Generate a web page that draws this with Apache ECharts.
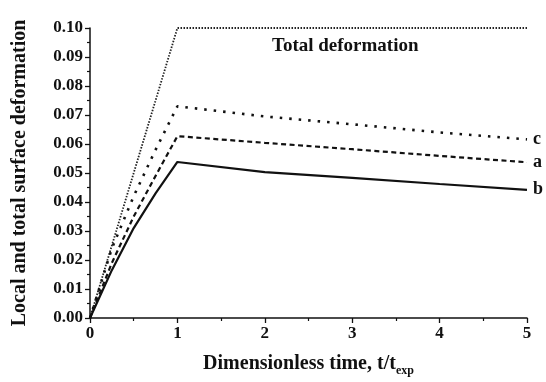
<!DOCTYPE html>
<html><head><meta charset="utf-8">
<script src="https://cdn.jsdelivr.net/npm/echarts@6/dist/echarts.min.js"></script>
<style>html,body{margin:0;padding:0;background:#fff}#c{width:546px;height:382px}</style>
</head><body><div id="c"></div>
<script>
const timeLocal = [0, 0.25, 0.5, 0.75, 1, 2, 3, 4, 5];
const curveB = [0, 0.0165, 0.031, 0.043, 0.0538, 0.0503, 0.0483, 0.0462, 0.0442];
const curveA = [0, 0.019, 0.035, 0.049, 0.0627, 0.0604, 0.0582, 0.0559, 0.0537];
const curveC = [0, 0.024, 0.042, 0.058, 0.073, 0.0695, 0.0668, 0.064, 0.0616];
const timeTotal = [0, 1, 5];
const totalDef = [0, 0.10, 0.10];
const yTicks = ['0.00','0.01','0.02','0.03','0.04','0.05','0.06','0.07','0.08','0.09','0.10'];

const F = '"Liberation Serif", "DejaVu Serif", serif';
const pair = (ts, vs) => ts.map((t, i) => [t, vs[i]]);
const chart = echarts.init(document.getElementById('c'));
const lbl = (txt) => ({show: true, formatter: txt, color: '#111', fontFamily: F, fontWeight: 'bold', fontSize: 18, distance: 6});
chart.setOption({
  animation: false,
  backgroundColor: '#fff',
  grid: {left: 90, right: 19, top: 28, bottom: 62},
  xAxis: {
    type: 'value', min: 0, max: 5, interval: 1,
    name: '{m|Dimensionless time, t/t}{s|exp}', nameLocation: 'middle', nameGap: 33,
    nameTextStyle: {rich: {
      m: {fontFamily: F, fontWeight: 'bold', fontSize: 20, color: '#111'},
      s: {fontFamily: F, fontWeight: 'bold', fontSize: 12, color: '#111', padding: [14, 0, 0, 0]}
    }},
    axisLine: {lineStyle: {color: '#111', width: 1.5}},
    axisTick: {inside: false, length: 5, lineStyle: {color: '#111', width: 1.3}},
    minorTick: {show: true, splitNumber: 2, length: 3, lineStyle: {color: '#111', width: 1.2}},
    axisLabel: {color: '#111', fontFamily: F, fontWeight: 'bold', fontSize: 17, margin: 7},
    splitLine: {show: false}
  },
  yAxis: {
    type: 'value', min: 0, max: 0.10, interval: 0.01,
    name: 'Local and total surface deformation', nameLocation: 'middle', nameGap: 60,
    nameTextStyle: {fontFamily: F, fontWeight: 'bold', fontSize: 20, color: '#111'},
    axisLine: {show: true, lineStyle: {color: '#111', width: 1.5}},
    axisTick: {show: true, length: 5, lineStyle: {color: '#111', width: 1.3}},
    minorTick: {show: true, splitNumber: 2, length: 3, lineStyle: {color: '#111', width: 1.2}},
    axisLabel: {color: '#111', fontFamily: F, fontWeight: 'bold', fontSize: 17, margin: 7,
      formatter: (v) => yTicks[Math.round(v * 100)]},
    splitLine: {show: false}
  },
  graphic: [{type: 'text', left: 272, top: 37,
    style: {text: 'Total deformation', fontFamily: F, fontWeight: 'bold', fontSize: 19, fill: '#111'}}],
  series: [
    {type: 'line', data: pair(timeTotal, totalDef), symbol: 'none',
      lineStyle: {color: '#222', width: 1.8, type: [1.5, 1.5]}},
    {type: 'line', data: pair(timeLocal, curveC), symbol: 'none',
      lineStyle: {color: '#111', width: 2.6, type: [2.5, 7]}, endLabel: lbl('c')},
    {type: 'line', data: pair(timeLocal, curveA), symbol: 'none',
      lineStyle: {color: '#111', width: 2.2, type: [5, 3.5]}, endLabel: lbl('a')},
    {type: 'line', data: pair(timeLocal, curveB), symbol: 'none',
      lineStyle: {color: '#111', width: 2.2}, endLabel: lbl('b')}
  ]
});
</script></body></html>
